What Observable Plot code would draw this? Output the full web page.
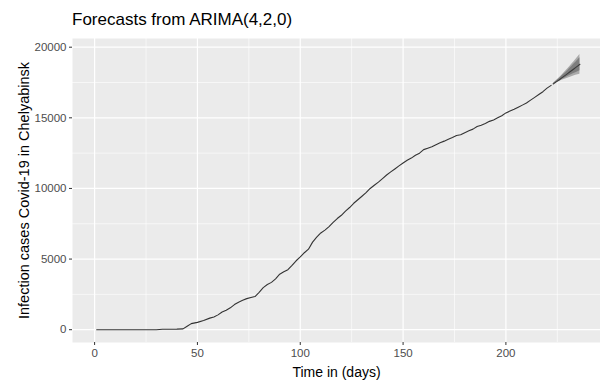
<!DOCTYPE html>
<html>
<head>
<meta charset="utf-8">
<script src="https://cdn.jsdelivr.net/npm/d3@7"></script>
<script src="https://cdn.jsdelivr.net/npm/@observablehq/plot@0.6"></script>
<style>
  body { margin: 0; background: #fff; font-family: "Liberation Sans", Arial, sans-serif; }
  #wrap { position: relative; width: 600px; height: 383px; }
  #title { position: absolute; left: 72px; top: 10px; font-size: 17px; color: #000; white-space: nowrap; }
</style>
</head>
<body>
<div id="wrap"><div id="title">Forecasts from ARIMA(4,2,0)</div></div>
<script>
// Observed cumulative cases
const days = [1,5,10,15,20,25,30,33,36,40,43,45,47,50,53,56,58,60,62,64,66,68,70,72,74,76,78,80,82,84,86,88,90,92,94,96,98,100,102,104,106,108,110,112,114,116,118,120,122,124,126,128,130,132,134,136,138,140,142,144,146,148,150,152,154,156,158,160,162,164,166,168,170,172,174,176,178,180,182,184,186,188,190,192,194,196,198,200,202,204,206,208,210,212,214,216,218,220,222];
const cases = [0,0,0,0,0,0,0,30,35,40,60,250,430,520,650,820,900,1050,1250,1380,1550,1780,1950,2080,2200,2280,2350,2650,2980,3200,3350,3600,3930,4100,4250,4550,4880,5150,5450,5700,6200,6550,6850,7050,7300,7600,7870,8100,8400,8650,8950,9200,9450,9700,10000,10230,10450,10700,10950,11170,11380,11600,11800,12000,12150,12350,12500,12750,12850,12950,13100,13230,13350,13480,13600,13750,13800,13950,14080,14200,14380,14480,14600,14750,14850,15000,15150,15350,15480,15600,15750,15900,16050,16250,16450,16650,16850,17100,17300];

// Forecast (h = 14)
const fDays = [223,224,225,226,227,228,229,230,231,232,233,234,235,236];
const fMean = [17400,17500,17600,17700,17810,17920,18020,18130,18240,18350,18460,18570,18680,18790];
const lo95 = [17380,17450,17510,17570,17640,17700,17750,17810,17860,17910,17960,18010,18050,18090];
const hi95 = [17420,17550,17690,17830,17980,18140,18290,18450,18620,18790,18960,19130,19310,19490];
const lo80 = [17387,17467,17540,17615,17700,17775,17845,17920,17990,18060,18130,18200,18270,18330];
const hi80 = [17413,17533,17660,17785,17920,18065,18195,18340,18490,18640,18790,18940,19090,19250];

const xMajor = [0,50,100,150,200];
const xMinor = [25,75,125,175,225];
const yMajor = [0,5000,10000,15000,20000];
const yMinor = [2500,7500,12500,17500];

const obs = days.map((d,i) => ({day: d, value: cases[i]}));
const fc = fDays.map((d,i) => ({day: d, mean: fMean[i], lo95: lo95[i], hi95: hi95[i], lo80: lo80[i], hi80: hi80[i]}));

const chart = Plot.plot({
  width: 600,
  height: 383,
  marginLeft: 72,
  marginRight: 0,
  marginTop: 38,
  marginBottom: 41,
  style: {fontFamily: "Liberation Sans, Arial, sans-serif", background: "transparent", overflow: "visible"},
  x: {domain: [-10.75, 246], axis: null},
  y: {domain: [-906, 20616], axis: null},
  marks: [
    Plot.frame({fill: "#EBEBEB", stroke: null}),
    Plot.ruleX(xMinor, {stroke: "#fff", strokeWidth: 0.6}),
    Plot.ruleY(yMinor, {stroke: "#fff", strokeWidth: 0.6}),
    Plot.ruleX(xMajor, {stroke: "#fff", strokeWidth: 1.2}),
    Plot.ruleY(yMajor, {stroke: "#fff", strokeWidth: 1.2}),
    Plot.areaY(fc, {x: "day", y1: "lo95", y2: "hi95", fill: "#ABABAB"}),
    Plot.areaY(fc, {x: "day", y1: "lo80", y2: "hi80", fill: "#7E7E7E"}),
    Plot.lineY(fc, {x: "day", y: "mean", stroke: "#3a3a3a", strokeWidth: 1.1}),
    Plot.lineY(obs, {x: "day", y: "value", stroke: "#333", strokeWidth: 1.1}),
    Plot.axisX(xMajor, {tickSize: 3, tickPadding: 3, fontSize: 11.5, fill: "#4D4D4D", stroke: "#333", label: null, tickFormat: d3.format("d")}),
    Plot.axisY(yMajor, {tickSize: 3, tickPadding: 3, fontSize: 11.5, fill: "#4D4D4D", stroke: "#333", label: null, tickFormat: d3.format("d")}),
    Plot.text(["Time in (days)"], {frameAnchor: "bottom", dy: 30, fontSize: 14, fill: "#000", lineAnchor: "middle", textAnchor: "middle"}),
    Plot.text(["Infection cases Covid-19 in Chelyabinsk"], {frameAnchor: "left", dx: -48, rotate: -90, fontSize: 14.5, fill: "#000", lineAnchor: "middle", textAnchor: "middle"})
  ]
});
document.getElementById("wrap").appendChild(chart);
</script>
</body>
</html>
